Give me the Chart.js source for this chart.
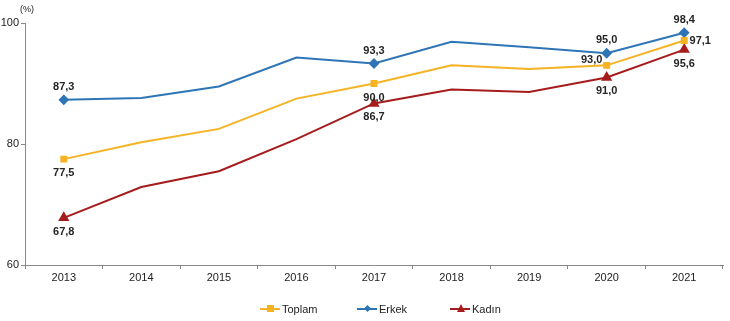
<!DOCTYPE html>
<html>
<head>
<meta charset="utf-8">
<script src="https://cdn.jsdelivr.net/npm/chart.js@4.4.0/dist/chart.umd.min.js"></script>
<style>
    html, body { margin: 0; padding: 0; background: #fff; }
    #wrap { position: relative; width: 730px; height: 321px; }
    #unit { position: absolute; left: 20px; top: 4px; font: 9px "Liberation Sans", Arial, sans-serif; color: #222; }
    #legend { position: absolute; top: 302px; left: 0; width: 730px; font: 11px "Liberation Sans", Arial, sans-serif; color: #222; }
    .item { position: absolute; top: 0; height: 14px; line-height: 14px; }
    .item .ln { position: absolute; left: 0; top: 6px; width: 20px; height: 2px; }
    .item .mk { position: absolute; left: 7px; }
    .item span { position: absolute; left: 22px; top: 0; white-space: nowrap; }
</style>
</head>
<body>
<div id="wrap">
    <canvas id="myChart" width="730" height="321"></canvas>
    <div id="unit">(%)</div>
    <div id="legend"></div>
</div>
<script>
var years = ['2013', '2014', '2015', '2016', '2017', '2018', '2019', '2020', '2021'];
var toplam = [77.5, 80.3, 82.5, 87.5, 90.0, 93.0, 92.4, 93.0, 97.1];
var erkek = [87.3, 87.6, 89.5, 94.3, 93.3, 96.9, 96.0, 95.0, 98.4];
var kadin = [67.8, 72.9, 75.5, 80.8, 86.7, 89.0, 88.6, 91.0, 95.6];
var yTicks = [60, 80, 100];

// points that carry a marker and a value label
var shown = [0, 4, 7, 8];

var colToplam = '#f5b324';
var colErkek = '#2e75b6';
var colKadin = '#a61c1c';

function radii(r) {
    return years.map(function(y, i) { return shown.indexOf(i) >= 0 ? r : 0; });
}

// label offsets per dataset, per shown index [dx, dy]
var labelPos = [
    { 0: [0, 14], 4: [0, 14], 7: [-15, -5], 8: [16, 0] },
    { 0: [0, -13], 4: [0, -13], 7: [0, -13], 8: [0, -13] },
    { 0: [0, 14], 4: [0, 14], 7: [0, 14], 8: [0, 14] }
];

var valueLabels = {
    id: 'valueLabels',
    afterDatasetsDraw: function(chart) {
        var ctx = chart.ctx;
        ctx.save();
        ctx.font = 'bold 11px "Liberation Sans", Arial, sans-serif';
        ctx.fillStyle = '#262626';
        ctx.textAlign = 'center';
        ctx.textBaseline = 'middle';
        chart.data.datasets.forEach(function(ds, d) {
            var meta = chart.getDatasetMeta(d);
            shown.forEach(function(i) {
                var p = meta.data[i];
                var off = labelPos[d][i];
                var txt = ds.data[i].toFixed(1).replace('.', ',');
                ctx.fillText(txt, p.x + off[0], p.y + off[1]);
            });
        });
        ctx.restore();
    }
};

var ctx = document.getElementById('myChart').getContext('2d');
var myChart = new Chart(ctx, {
    type: 'line',
    data: {
        labels: years,
        datasets: [{
            label: 'Toplam',
            data: toplam,
            borderColor: colToplam,
            backgroundColor: colToplam,
            borderWidth: 2,
            pointStyle: 'rect',
            pointRadius: radii(3.5),
            tension: 0
        }, {
            label: 'Erkek',
            data: erkek,
            borderColor: colErkek,
            backgroundColor: colErkek,
            borderWidth: 2,
            pointStyle: 'rectRot',
            pointRadius: radii(4),
            tension: 0
        }, {
            label: 'Kadın',
            data: kadin,
            borderColor: colKadin,
            backgroundColor: colKadin,
            borderWidth: 2,
            pointStyle: 'triangle',
            pointRadius: radii(4.5),
            tension: 0
        }]
    },
    options: {
        responsive: false,
        animation: false,
        layout: { padding: { top: 23, right: 7, bottom: 36, left: 0 } },
        plugins: {
            legend: { display: false },
            tooltip: { enabled: false }
        },
        scales: {
            y: {
                min: 60,
                max: 100,
                afterFit: function(s) { s.width = 25; },
                afterBuildTicks: function(s) { s.ticks = yTicks.map(function(v) { return { value: v }; }); },
                border: { color: '#888', width: 1 },
                grid: { drawOnChartArea: false, tickLength: 4, color: '#888' },
                ticks: {
                    padding: 2,
                    color: '#222',
                    font: { family: '"Liberation Sans", Arial, sans-serif', size: 11 }
                }
            },
            x: {
                offset: true,
                afterFit: function(s) { s.height = 20; },
                border: { color: '#888', width: 1 },
                grid: { offset: true, drawOnChartArea: false, tickLength: 4, color: '#888' },
                ticks: {
                    padding: 2,
                    maxRotation: 0,
                    color: '#222',
                    font: { family: '"Liberation Sans", Arial, sans-serif', size: 11 }
                }
            }
        }
    },
    plugins: [valueLabels]
});

// Legend with line + marker
var legendItems = [
    { name: 'Toplam', color: colToplam, left: 260, mk: 'sq' },
    { name: 'Erkek', color: colErkek, left: 357, mk: 'dm' },
    { name: 'Kadın', color: colKadin, left: 450, mk: 'tr' }
];
var legendHTML = '';
for (var i = 0; i < legendItems.length; i++) {
    var it = legendItems[i];
    var mk;
    if (it.mk === 'sq') {
        mk = '<div class="mk" style="top:3px;width:7px;height:7px;background:' + it.color + '"></div>';
    } else if (it.mk === 'dm') {
        mk = '<div class="mk" style="top:4px;left:8px;width:5px;height:5px;transform:rotate(45deg);background:' + it.color + '"></div>';
    } else {
        mk = '<div class="mk" style="top:2px;width:0;height:0;border-left:4px solid transparent;border-right:4px solid transparent;border-bottom:8px solid ' + it.color + '"></div>';
    }
    legendHTML += '<div class="item" style="left:' + it.left + 'px"><div class="ln" style="background:' + it.color + '"></div>' + mk + '<span>' + it.name + '</span></div>';
}
document.getElementById('legend').innerHTML = legendHTML;
</script>
</body>
</html>
